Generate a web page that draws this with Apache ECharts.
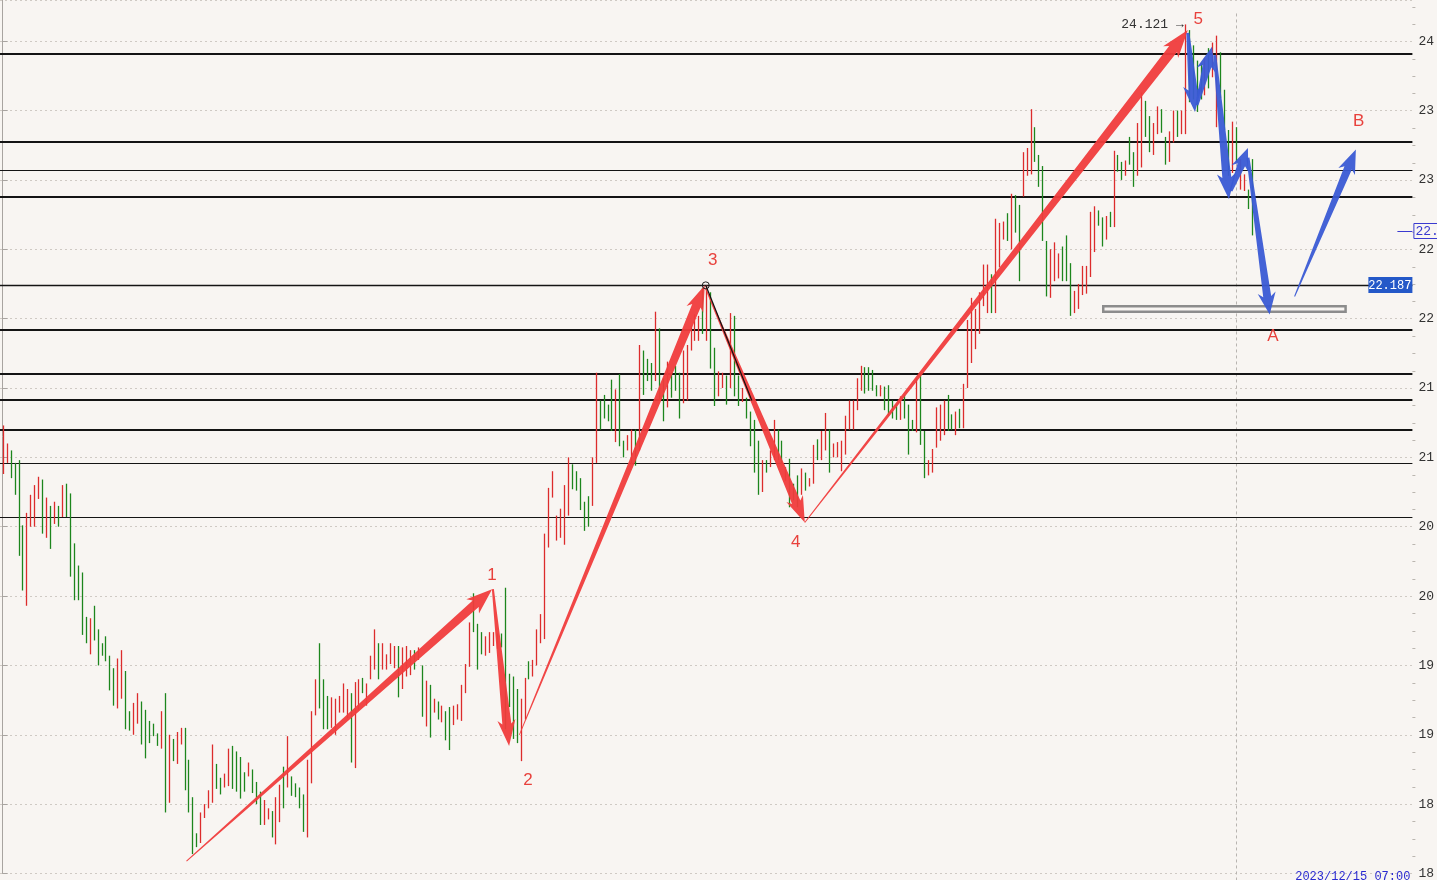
<!DOCTYPE html>
<html><head><meta charset="utf-8">
<script src="https://cdn.jsdelivr.net/npm/echarts@6/dist/echarts.min.js"></script>
<style>html,body{margin:0;padding:0;background:#f8f5f2;overflow:hidden}#c{width:1437px;height:880px;}</style>
</head><body><div id="c"></div>
<script>
// ---- data ----
const highs=[21.23,21.10,21.05,20.96,20.98,20.51,20.60,20.73,20.80,20.86,
20.84,20.71,20.65,20.68,20.65,20.80,20.81,20.74,20.38,20.22,
20.17,19.85,19.84,19.93,19.76,19.66,19.71,19.57,19.48,19.55,
19.61,19.46,19.17,19.23,19.30,19.24,19.18,19.10,19.08,19.01,
19.17,19.30,19.00,18.97,19.02,19.05,19.05,18.82,18.55,18.29,
18.44,18.50,18.60,18.93,18.79,18.69,18.72,18.90,18.92,18.88,
18.84,18.73,18.80,18.75,18.66,18.59,18.53,18.47,18.45,18.55,
18.64,18.77,18.99,18.70,18.65,18.62,18.57,18.82,19.17,19.40,
19.66,19.40,19.28,19.27,19.26,19.28,19.37,19.33,19.30,19.38,
19.40,19.41,19.37,19.57,19.76,19.66,19.66,19.58,19.66,19.64,
19.64,19.63,19.64,19.61,19.61,19.63,19.50,19.39,19.36,19.26,
19.24,19.21,19.17,19.20,19.21,19.22,19.36,19.51,19.81,20.02,
19.80,19.74,19.71,19.74,19.74,19.73,19.73,20.06,19.44,19.42,
19.33,19.26,19.41,19.53,19.54,19.76,19.87,20.45,20.78,20.90,
20.58,20.63,20.80,21.00,20.95,20.90,20.85,20.68,20.72,21.00,
21.61,21.41,21.45,21.38,21.56,21.49,21.60,21.12,21.16,21.20,
21.20,21.81,21.77,21.71,21.68,22.05,21.93,21.57,21.69,21.61,
21.66,21.61,21.77,21.81,21.95,22.03,22.02,22.22,22.24,22.19,
21.79,21.62,21.61,21.59,22.04,22.02,21.59,21.50,21.43,21.33,
21.27,21.12,20.98,20.98,21.05,21.27,21.20,21.12,20.93,20.99,
20.81,20.87,20.92,20.89,20.85,21.09,21.13,21.19,21.32,21.20,
21.10,21.11,21.12,21.30,21.41,21.41,21.57,21.66,21.65,21.65,
21.63,21.52,21.52,21.51,21.52,21.41,21.38,21.44,21.45,21.38,
21.27,21.57,21.61,21.19,20.98,21.06,21.36,21.38,21.41,21.45,
21.31,21.33,21.35,21.53,21.99,22.15,22.07,22.19,22.39,22.39,
22.32,22.72,22.69,22.70,22.76,22.90,22.89,22.82,23.20,23.23,
23.51,23.38,23.18,23.10,22.56,22.50,22.55,22.47,22.52,22.60,
22.40,22.20,22.25,22.38,22.38,22.77,22.81,22.78,22.73,22.74,
22.77,23.21,23.18,23.13,23.14,23.31,23.20,23.41,23.63,23.57,
23.46,23.41,23.53,23.51,23.31,23.35,23.50,23.50,23.50,24.121,
24.08,23.97,23.86,23.84,23.88,23.95,23.99,24.04,23.92,23.65,
23.36,23.42,23.38,23.15,23.04,22.93,23.15];
const lows=[20.88,20.96,20.85,20.73,20.29,20.04,19.93,20.50,20.50,20.70,
20.45,20.42,20.34,20.52,20.50,20.57,20.57,20.14,19.97,19.97,
19.72,19.66,19.58,19.68,19.50,19.57,19.53,19.32,19.21,19.19,
19.26,19.04,19.03,19.00,19.08,18.93,18.83,18.94,18.99,18.92,
18.90,18.44,18.51,18.81,18.79,18.93,18.60,18.44,18.14,18.19,
18.22,18.40,18.47,18.51,18.61,18.57,18.62,18.63,18.61,18.59,
18.54,18.59,18.70,18.58,18.50,18.35,18.35,18.39,18.26,18.21,
18.37,18.47,18.62,18.56,18.55,18.47,18.30,18.26,18.65,19.14,
19.19,19.04,19.04,19.05,19.00,19.16,19.16,19.12,18.80,18.76,
19.18,19.30,19.21,19.40,19.47,19.40,19.47,19.47,19.51,19.48,
19.27,19.33,19.42,19.43,19.47,19.54,19.13,19.06,18.98,19.16,
19.11,19.09,18.96,18.89,19.07,19.11,19.10,19.30,19.49,19.74,
19.47,19.58,19.57,19.59,19.64,19.62,19.63,19.04,19.20,18.97,
18.94,18.81,19.11,19.40,19.42,19.50,19.66,19.69,20.35,20.71,
20.40,20.42,20.37,20.58,20.77,20.76,20.62,20.47,20.50,20.65,
20.96,21.20,21.28,21.26,21.19,21.11,21.08,21.00,21.05,20.95,
20.94,21.05,21.45,21.55,21.48,21.55,21.41,21.26,21.36,21.43,
21.48,21.28,21.39,21.41,21.77,21.84,21.84,21.89,21.84,21.64,
21.37,21.44,21.50,21.38,21.50,21.44,21.37,21.40,21.28,21.08,
20.89,20.73,20.75,20.89,20.93,20.98,20.98,20.95,20.83,20.64,
20.69,20.64,20.73,20.76,20.79,20.81,20.98,20.98,21.05,20.89,
21.00,21.00,20.90,21.02,21.20,21.20,21.34,21.48,21.46,21.48,
21.48,21.44,21.44,21.34,21.30,21.28,21.27,21.27,21.28,21.02,
21.19,21.18,21.09,20.85,20.87,20.89,21.07,21.12,21.16,21.19,
21.20,21.16,21.21,21.21,21.50,21.68,21.78,21.89,22.09,22.04,
22.04,22.04,22.37,22.57,22.56,22.50,22.62,22.27,22.88,23.03,
23.04,23.13,22.95,22.56,22.16,22.15,22.27,22.29,22.27,22.27,
22.02,22.04,22.07,22.17,22.18,22.30,22.48,22.67,22.52,22.57,
22.66,22.66,23.06,23.00,23.03,23.11,22.95,23.03,23.09,23.31,
23.20,23.18,23.33,23.34,23.11,23.13,23.27,23.31,23.33,23.33,
23.56,23.58,23.49,23.58,23.61,23.66,23.74,23.38,23.59,23.36,
23.03,23.05,23.13,22.93,22.92,22.79,22.60];
// r = red bar, g = green bar
const barColors=("rrggggrrrr"+"grgrgrgggg"+"ggrggggggr"+"rggrrggggg"+"rgrgrrgggg"+
"rrrrggrrgg"+"ggrgggrrgr"+"rgrggggrrr"+"gggrrrrrgr"+"rgrrrgrrrr"+
"grrrgrgrgr"+"grggrrrrrg"+"ggrrrrgggg"+"grrgrrrrrr"+"rrrrgggggr"+
"rggggrggrr"+"grgggrggrg"+"ggrrrrrgrg"+"grrgrggrgg"+"ggrgrrggrg"+
"ggrgrrgrrg"+"rrrrrrrrgg"+"ggrggggrgg"+"grggrrrrrg"+"grgrrrrrrr"+
"grrrgrggrr"+"rggggrrrgg"+"grrrrrrggr"+"grggrggrrg"+"grrggrrgrr"+
"ggggrgrrgg"+"grgrrgg").split('');

const levelLines=[23.91,23.27,23.07,22.88,22.24,21.92,21.60,21.41,21.20,20.96,20.57];
// wave arrows: [fromIndex, fromPrice, toIndex, toPrice]
const redWaves=[[46.5,18.09,123.8,20.05],[124.0,20.05,128.1,18.92],[130.7,19.00,177.6,22.24],[177.8,22.22,202.9,20.53],[202.9,20.53,299.8,24.08]];
const blueWaves=[[299.8,24.06,301.6,23.49],[302.1,23.54,305.9,23.96],[306.6,23.90,310.2,22.86],[310.7,22.92,315.0,23.23],[315.0,23.16,320.5,22.03],[326.8,22.16,342.3,23.22]];
const waveLabels=['1','2','3','4','5','A','B'];
const waveLabelPos=[[123.8,20.15],[132.9,18.67],[179.6,22.42],[200.6,20.39],[302.4,24.16],[321.3,21.87],[343.0,23.42]];
const trendLine=[177.85,22.24,189.5,21.41];
const zoneBox=[278.4,22.09,339.7,22.05];
const peakIndex=299, peakValue=24.121;
const tagLevel=22.24, tagText='22.187';
const lastPrice=22.63, lastText='22.63';
const cursorIndex=312;
const dateText='2023/12/15 07:00';

// ---- styles ----
const RED='#f03c3c', BLUE='#3a5ad4', BG='#f8f5f2';
const levelWidths=[2,2,1.2,2,1.5,2,2,2,2,1.2,1.2];
const redArrowStyle=[{w0:1,w1:9,hw:19,hl:22},{w0:2,w1:9,hw:18,hl:22},{w0:0.8,w1:9,hw:18,hl:22},{w0:1.2,w1:9,hw:18,hl:22},{w0:1,w1:10,hw:19,hl:24}];
const blueArrowStyle=[{w0:3,w1:9,hw:19,hl:22},{w0:3,w1:9,hw:19,hl:20},{w0:3,w1:9,hw:19,hl:22},{w0:3,w1:8,hw:18,hl:18},{w0:3,w1:8,hw:18,hl:18},{w0:1,w1:8,hw:18,hl:20}];
const XMIN=-0.68, XMAX=356.6, YMIN=18, YMAX=24.297, MINOR=0.125;

function arrowPts(p1,p2,s){
  const dx=p2[0]-p1[0], dy=p2[1]-p1[1], L=Math.hypot(dx,dy);
  const ux=dx/L, uy=dy/L, nx=-uy, ny=ux;
  const bx=p2[0]-ux*s.hl, by=p2[1]-uy*s.hl;
  const nb=4;
  return [
    [p1[0]+nx*s.w0/2,p1[1]+ny*s.w0/2],
    [bx+nx*s.w1/2,by+ny*s.w1/2],
    [bx-ux*nb+nx*s.hw/2,by-uy*nb+ny*s.hw/2],
    [p2[0],p2[1]],
    [bx-ux*nb-nx*s.hw/2,by-uy*nb-ny*s.hw/2],
    [bx-nx*s.w1/2,by-ny*s.w1/2],
    [p1[0]-nx*s.w0/2,p1[1]-ny*s.w0/2]
  ];
}
function arrowSeries(list,styles,color){
  return {type:'custom',silent:true,z:5,data:list,encode:{x:[0,2],y:[1,3]},
    renderItem:function(params,api){
      const a=api.coord([api.value(0),api.value(1)]);
      const b=api.coord([api.value(2),api.value(3)]);
      return {type:'polygon',shape:{points:arrowPts(a,b,styles[params.dataIndex])},style:{fill:color,opacity:0.95}};
    }};
}
// minor tick positions on the price axis (between the 0.5 labels)
const minorTickVals=[];
for(let v=YMIN+MINOR; v<YMAX; v+=MINOR){ if(Math.abs(v*2-Math.round(v*2))>1e-6) minorTickVals.push([XMAX,v]); }

const chart=echarts.init(document.getElementById('c'),null,{renderer:'canvas'});
const monoFont='13px "Liberation Mono", "DejaVu Sans Mono", monospace';
chart.setOption({
  backgroundColor:BG,
  animation:false,
  grid:{left:0,right:22,top:0,bottom:0.5,containLabel:false},
  xAxis:{type:'value',min:XMIN,max:XMAX,show:false},
  yAxis:{type:'value',position:'right',min:YMIN,max:YMAX,interval:0.5,
    axisLine:{show:true,lineStyle:{color:'#a8a4a0',width:1}},
    axisTick:{show:true,length:5,lineStyle:{color:'#a8a4a0'}},
    minorTick:{show:false},
    splitLine:{show:true,lineStyle:{color:'#cfcac4',type:[2,3],width:1}},
    axisLabel:{color:'#333',fontFamily:'"Liberation Mono","DejaVu Sans Mono",monospace',fontSize:13,margin:6,
      showMaxLabel:false,showMinLabel:true,
      formatter:v=>String(Math.floor(v+1e-9))}
  },
  series:[
    // minor axis ticks
    {type:'custom',silent:true,z:1,data:minorTickVals,
      renderItem:function(params,api){
        const p=api.coord([api.value(0),api.value(1)]);
        const y=Math.round(p[1])+0.5;
        return {type:'line',shape:{x1:p[0],y1:y,x2:p[0]+3,y2:y},style:{stroke:'#bbb6b0',lineWidth:1}};
      }},
    // cursor line
    {type:'custom',silent:true,z:1,data:[[cursorIndex,24.2]],
      renderItem:function(params,api){
        const p=api.coord([api.value(0),api.value(1)]);
        const x=Math.round(p[0])+0.5;
        return {type:'line',shape:{x1:x,y1:p[1],x2:x,y2:880},style:{stroke:'#b8b4b0',lineWidth:1,lineDash:[3,3]}};
      }},
    // horizontal level lines
    {type:'custom',silent:true,z:2,data:levelLines.map(v=>[XMIN,v]),
      renderItem:function(params,api){
        const a=api.coord([XMIN,api.value(1)]), b=api.coord([XMAX,api.value(1)]);
        const w=levelWidths[params.dataIndex];
        const y=w<1.6?Math.round(a[1])+0.5:Math.round(a[1]);
        return {type:'line',shape:{x1:a[0],y1:y,x2:b[0],y2:y},style:{stroke:'#141414',lineWidth:w}};
      }},
    // price bars
    {type:'custom',silent:true,z:3,data:highs.map((h,k)=>[k,h,lows[k],barColors[k]==='r'?1:0]),encode:{x:0,y:[1,2]},
      renderItem:function(params,api){
        const t=api.coord([api.value(0),api.value(1)]), b=api.coord([api.value(0),api.value(2)]);
        const x=Math.round(t[0])+0.5;
        return {type:'line',shape:{x1:x,y1:t[1],x2:x,y2:b[1]},style:{stroke:api.value(3)?'#dc2c2c':'#1d861d',lineWidth:1.3}};
      }},
    // zone box
    {type:'custom',silent:true,z:4,data:[zoneBox],encode:{x:[0,2],y:[1,3]},
      renderItem:function(params,api){
        const a=api.coord([api.value(0),api.value(1)]), b=api.coord([api.value(2),api.value(3)]);
        return {type:'rect',shape:{x:a[0],y:a[1],width:b[0]-a[0],height:b[1]-a[1]},style:{fill:BG,stroke:'#8c8c8c',lineWidth:2.5}};
      }},
    // black trend line & marker
    {type:'custom',silent:true,z:6,data:[trendLine],encode:{x:[0,2],y:[1,3]},
      renderItem:function(params,api){
        const a=api.coord([api.value(0),api.value(1)]), b=api.coord([api.value(2),api.value(3)]);
        return {type:'group',children:[
          {type:'line',shape:{x1:a[0],y1:a[1],x2:b[0],y2:b[1]},style:{stroke:'#111',lineWidth:1.2}},
          {type:'circle',shape:{cx:a[0],cy:a[1],r:3.5},style:{fill:'none',stroke:'#222',lineWidth:1}}
        ]};
      }},
    arrowSeries(redWaves,redArrowStyle,RED),
    arrowSeries(blueWaves,blueArrowStyle,BLUE),
    // wave labels
    {type:'custom',silent:true,z:7,data:waveLabelPos,
      renderItem:function(params,api){
        const p=api.coord([api.value(0),api.value(1)]);
        return {type:'text',style:{text:waveLabels[params.dataIndex],x:p[0],y:p[1],fill:'#e8413c',
          font:'17px "Liberation Sans", Arial, sans-serif',textAlign:'center',textVerticalAlign:'middle'}};
      }},
    // peak value label
    {type:'custom',silent:true,z:8,data:[[peakIndex,peakValue]],
      renderItem:function(params,api){
        const p=api.coord([api.value(0),api.value(1)]);
        return {type:'text',style:{text:peakValue.toFixed(3)+' →',x:p[0]-1,y:p[1],fill:'#333',
          font:monoFont,textAlign:'right',textVerticalAlign:'middle'}};
      }},
    // price tags on the axis
    {type:'custom',silent:true,z:9,data:[[XMAX,tagLevel],[XMAX,lastPrice]],
      renderItem:function(params,api){
        const p=api.coord([api.value(0),api.value(1)]);
        const x=p[0], y=Math.round(p[1]);
        if(params.dataIndex===0){
          return {type:'group',children:[
            {type:'rect',shape:{x:x-44,y:y-8,width:44,height:16},style:{fill:'#2458c8'}},
            {type:'text',style:{text:tagText,x:x-1,y:y+1,fill:'#fff',font:'12px "Liberation Mono",monospace',textAlign:'right',textVerticalAlign:'middle'}}
          ]};
        }
        return {type:'group',children:[
          {type:'line',shape:{x1:x-15,y1:y+0.5,x2:x,y2:y+0.5},style:{stroke:'#3a3ad0',lineWidth:1}},
          {type:'rect',shape:{x:x+1.5,y:y-7.5,width:40,height:15},style:{fill:BG,stroke:'#3a3ad0',lineWidth:1}},
          {type:'text',style:{text:lastText,x:x+3,y:y+1,fill:'#3a3ad0',font:'13px "Liberation Mono",monospace',textAlign:'left',textVerticalAlign:'middle'}}
        ]};
      }},
    // time stamp at the bottom edge
    {type:'custom',silent:true,z:9,data:[[XMAX,YMIN]],
      renderItem:function(params,api){
        const p=api.coord([api.value(0),api.value(1)]);
        return {type:'text',style:{text:dateText,x:p[0]-2,y:p[1]+3,fill:'#2a2ad0',font:'12px "Liberation Mono",monospace',textAlign:'right',textVerticalAlign:'middle'}};
      }}
  ]
});
</script>
</body></html>
